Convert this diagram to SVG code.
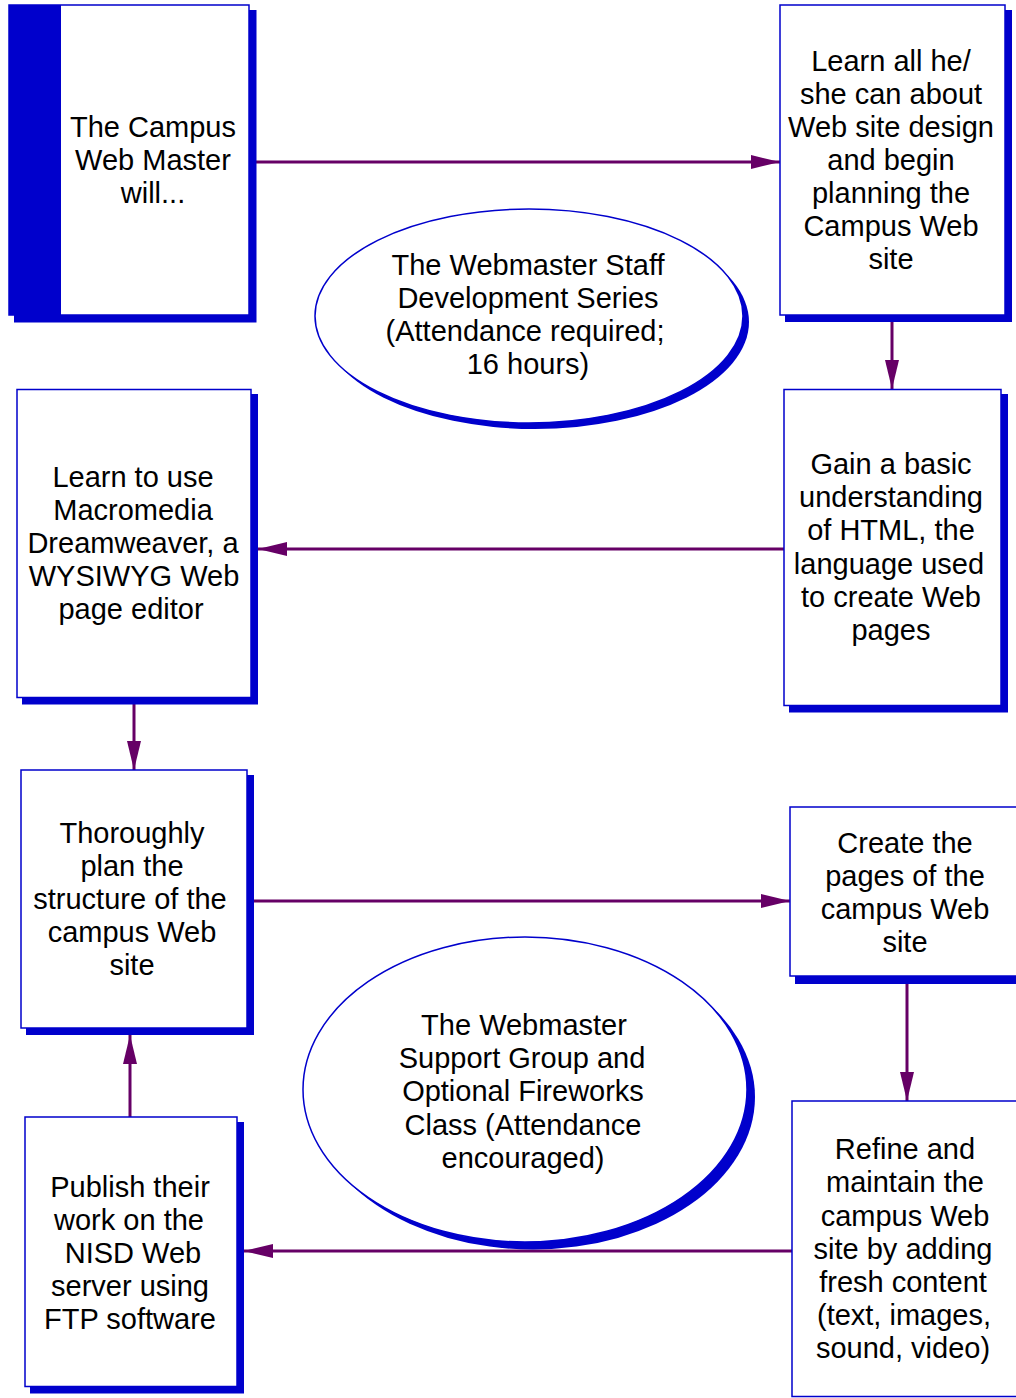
<svg xmlns="http://www.w3.org/2000/svg" width="1016" height="1398" viewBox="0 0 1016 1398">
<style>
.box{fill:#ffffff;stroke:#0000CC;stroke-width:1.5}
.sh{fill:#0000CC;stroke:none}
.t{font-family:"Liberation Sans",Arial,sans-serif;font-size:29px;fill:#000000;text-anchor:middle}
.c{stroke:#660066;stroke-width:3;fill:none;marker-end:url(#ah)}
</style>
<defs>
<marker id="ah" markerUnits="userSpaceOnUse" markerWidth="30" markerHeight="14" refX="29" refY="7" orient="auto" viewBox="0 0 30 14">
<path d="M0,0 L29,7 L0,14 z" fill="#660066"/>
</marker>
</defs>
<rect width="1016" height="1398" fill="#ffffff"/>

<g id="connectors">
<line class="c" x1="256" y1="162" x2="780" y2="162"/>
<line class="c" x1="892" y1="322" x2="892" y2="389"/>
<line class="c" x1="784" y1="549" x2="258" y2="549"/>
<line class="c" x1="134" y1="704" x2="134" y2="770"/>
<line class="c" x1="254" y1="901" x2="790" y2="901"/>
<line class="c" x1="907" y1="984" x2="907" y2="1101"/>
<line class="c" x1="792" y1="1251" x2="244" y2="1251"/>
<line class="c" x1="130" y1="1117" x2="130" y2="1035"/>
</g>

<g id="n1">
<rect class="sh" x="14" y="10" width="242.5" height="312.5"/>
<rect class="box" x="9" y="5" width="240" height="310"/>
<rect class="sh" x="9" y="5" width="52" height="310"/>
<text class="t" x="153" y="137">The Campus</text>
<text class="t" x="153" y="170">Web Master</text>
<text class="t" x="153" y="203">will...</text>
</g>

<g id="n2">
<rect class="sh" x="785" y="10" width="227" height="312"/>
<rect class="box" x="780" y="5" width="225" height="310"/>
<text class="t" x="891" y="71">Learn all he/</text>
<text class="t" x="891" y="104">she can about</text>
<text class="t" x="891" y="137">Web site design</text>
<text class="t" x="891" y="170">and begin</text>
<text class="t" x="891" y="203">planning the</text>
<text class="t" x="891" y="236">Campus Web</text>
<text class="t" x="891" y="269">site</text>
</g>

<g id="e1">
<ellipse class="sh" cx="535" cy="322" rx="214" ry="107"/>
<ellipse class="box" cx="529" cy="316" rx="214" ry="107"/>
<text class="t" x="528" y="275">The Webmaster Staff</text>
<text class="t" x="528" y="308">Development Series</text>
<text class="t" x="525" y="341">(Attendance required;</text>
<text class="t" x="528" y="374">16 hours)</text>
</g>

<g id="n3">
<rect class="sh" x="789" y="394" width="219" height="318.5"/>
<rect class="box" x="784" y="389.5" width="217" height="316"/>
<text class="t" x="891" y="474">Gain a basic</text>
<text class="t" x="891" y="507">understanding</text>
<text class="t" x="891" y="540">of HTML, the</text>
<text class="t" x="889" y="574">language used</text>
<text class="t" x="891" y="607">to create Web</text>
<text class="t" x="891" y="640">pages</text>
</g>

<g id="n4">
<rect class="sh" x="22" y="394" width="236" height="310.5"/>
<rect class="box" x="17" y="389.5" width="234" height="308"/>
<text class="t" x="133" y="487">Learn to use</text>
<text class="t" x="133" y="520">Macromedia</text>
<text class="t" x="133" y="553">Dreamweaver, a</text>
<text class="t" x="134" y="586">WYSIWYG Web</text>
<text class="t" x="131" y="619">page editor</text>
</g>

<g id="n5">
<rect class="sh" x="26" y="775" width="228" height="260"/>
<rect class="box" x="21" y="770" width="226" height="258"/>
<text class="t" x="132" y="843">Thoroughly</text>
<text class="t" x="132" y="876">plan the</text>
<text class="t" x="130" y="909">structure of the</text>
<text class="t" x="132" y="942">campus Web</text>
<text class="t" x="132" y="975">site</text>
</g>

<g id="n6">
<rect class="sh" x="795" y="812" width="240" height="172"/>
<rect class="box" x="790" y="807" width="240" height="169"/>
<text class="t" x="905" y="853">Create the</text>
<text class="t" x="905" y="886">pages of the</text>
<text class="t" x="905" y="919">campus Web</text>
<text class="t" x="905" y="952">site</text>
</g>

<g id="e2">
<ellipse class="sh" cx="533" cy="1097" rx="222" ry="152.5"/>
<ellipse class="box" cx="525" cy="1089.5" rx="222" ry="152.5"/>
<text class="t" x="524" y="1035">The Webmaster</text>
<text class="t" x="522" y="1068">Support Group and</text>
<text class="t" x="523" y="1101">Optional Fireworks</text>
<text class="t" x="523" y="1135">Class (Attendance</text>
<text class="t" x="523" y="1168">encouraged)</text>
</g>

<g id="n7">
<rect class="box" x="792" y="1101" width="240" height="295.5"/>
<text class="t" x="905" y="1159">Refine and</text>
<text class="t" x="905" y="1192">maintain the</text>
<text class="t" x="905" y="1226">campus Web</text>
<text class="t" x="903" y="1259">site by adding</text>
<text class="t" x="903" y="1292">fresh content</text>
<text class="t" x="904" y="1325">(text, images,</text>
<text class="t" x="903" y="1358">sound, video)</text>
</g>

<g id="n8">
<rect class="sh" x="30" y="1122" width="214" height="271.5"/>
<rect class="box" x="25" y="1117" width="212" height="269.5"/>
<text class="t" x="130" y="1197">Publish their</text>
<text class="t" x="129" y="1230">work on the</text>
<text class="t" x="133" y="1263">NISD Web</text>
<text class="t" x="130" y="1296">server using</text>
<text class="t" x="130" y="1329">FTP software</text>
</g>
</svg>
